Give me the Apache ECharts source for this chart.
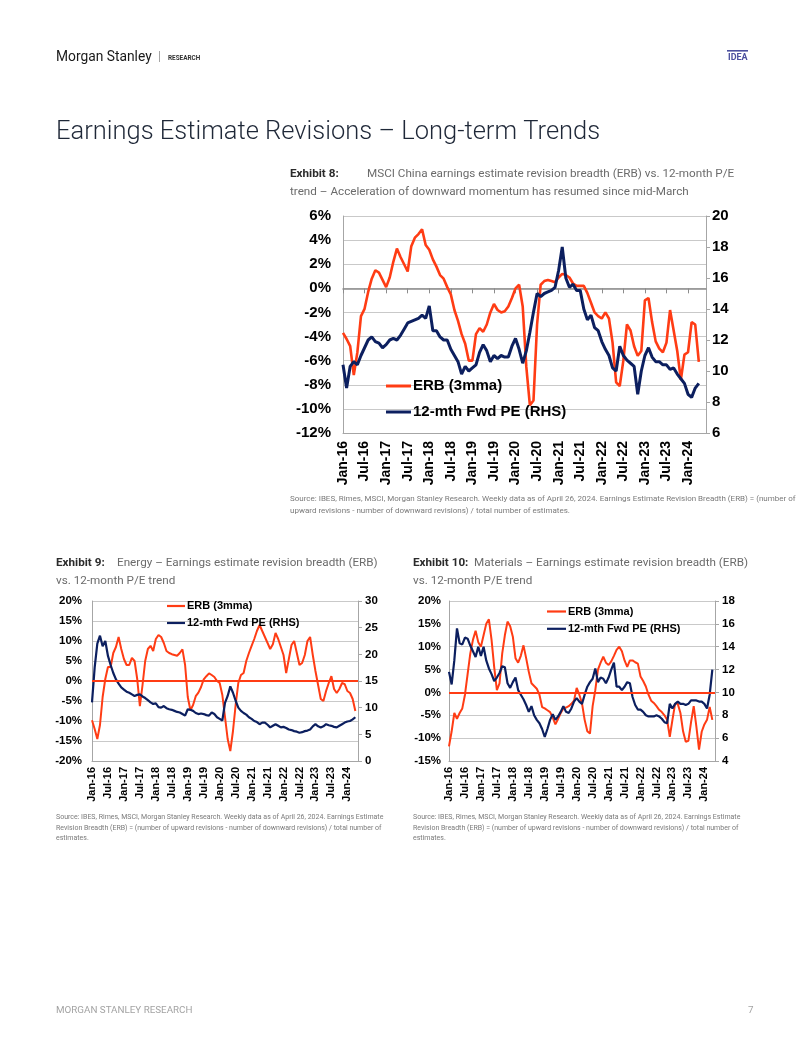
<!DOCTYPE html>
<html><head><meta charset="utf-8">
<script src="https://cdn.jsdelivr.net/npm/echarts@6/dist/echarts.min.js"></script>
<style>html,body{margin:0;padding:0;background:#fff}#c{width:802px;height:1037px}</style>
</head><body><div id="c"></div>
<script>
// ---------- data (monthly, Jan-16 .. Apr-24) ----------
const tickLabels = ['Jan-16','Jul-16','Jan-17','Jul-17','Jan-18','Jul-18','Jan-19','Jul-19','Jan-20','Jul-20','Jan-21','Jul-21','Jan-22','Jul-22','Jan-23','Jul-23','Jan-24'];
const seriesNames = ['ERB (3mma)','12-mth Fwd PE (RHS)'];

const erbChina = [
 -3.7,-4.2,-4.8,-7.2,-5.3,-2.3,-1.7,-0.3,0.8,1.5,
 1.3,0.7,0.1,0.9,2.2,3.3,2.6,2.0,1.4,3.5,
 4.2,4.5,4.9,3.6,3.2,2.4,1.8,1.1,0.8,0.1,
 -0.5,-1.8,-2.7,-3.8,-4.6,-6.0,-6.0,-3.8,-3.3,-3.6,
 -3.0,-2.0,-1.3,-1.8,-2.0,-1.9,-1.5,-0.8,0.0,0.3,
 -1.5,-6.5,-9.7,-9.3,-3.0,0.3,0.6,0.7,0.6,0.5,
 0.9,1.2,1.1,0.9,0.4,0.2,0.2,0.2,-0.4,-1.2,
 -2.0,-2.3,-2.5,-2.0,-2.5,-4.5,-7.8,-8.1,-6.0,-3.0,
 -3.5,-4.8,-5.6,-5.2,-1.0,-0.8,-2.8,-4.4,-5.0,-5.3,
 -4.5,-1.8,-3.5,-5.2,-7.6,-5.5,-5.3,-2.8,-3.0,-6.1];
const peChina = [
 10.4,8.9,10.3,10.6,10.4,11.0,11.5,12.0,12.2,11.9,
 11.8,11.5,11.7,12.0,12.1,12.0,12.3,12.7,13.1,13.2,
 13.3,13.4,13.6,13.4,14.2,12.6,12.6,12.2,12.0,12.0,
 11.4,11.0,10.6,9.8,10.3,10.0,10.2,10.4,11.2,11.7,
 11.3,10.6,11.0,10.8,11.0,10.9,10.9,11.6,12.1,11.4,
 10.5,11.3,12.5,13.8,15.0,14.8,15.0,15.1,15.2,15.4,
 16.5,18.0,16.0,15.4,15.6,15.2,15.2,14.0,13.3,13.6,
 12.8,12.6,11.9,11.4,11.0,10.2,10.0,11.6,11.0,10.7,
 10.5,10.3,8.5,10.0,11.0,11.5,10.9,10.6,10.6,10.4,
 10.4,10.1,10.2,9.8,9.5,9.2,8.5,8.3,8.9,9.2];

const erbEnergy = [
 -9.8,-12.0,-14.5,-11.0,-4.0,0.5,3.5,3.5,7.0,8.5,
 11.0,8.0,5.5,4.0,4.0,5.8,5.0,0.5,-6.3,-1.0,
 5.0,8.0,8.8,7.5,10.5,11.5,11.0,9.5,7.5,7.0,
 6.7,6.5,6.3,7.0,7.9,4.0,-4.0,-7.3,-6.0,-3.8,
 -2.9,-1.5,0.4,1.2,1.9,1.5,1.0,0.0,-0.5,-3.5,
 -9.0,-14.5,-17.5,-12.5,-6.0,-0.5,1.5,2.0,5.0,7.0,
 8.8,10.5,12.5,14.0,12.5,11.0,9.5,8.0,9.2,12.0,
 10.5,8.5,6.5,2.0,5.5,9.0,10.0,7.0,4.0,4.5,
 6.5,10.0,11.0,6.5,2.5,-1.0,-4.5,-5.0,-2.5,-0.5,
 1.2,-2.0,-3.0,-2.0,-0.5,-0.8,-2.5,-3.0,-4.5,-7.5];
const peEnergy = [
 11.0,17.5,22.0,23.5,21.5,22.5,19.7,18.0,16.5,15.3,
 14.5,13.8,13.4,13.0,12.8,12.5,12.2,12.4,12.5,12.1,
 11.8,11.4,11.0,10.7,10.8,10.1,10.0,10.3,9.9,9.7,
 9.6,9.4,9.2,9.1,8.8,8.5,9.7,9.6,9.4,9.0,
 8.8,8.9,8.8,8.6,8.5,9.1,8.8,8.2,7.9,7.6,
 10.9,12.2,14.0,12.8,11.3,10.0,9.4,9.0,8.7,8.2,
 7.9,7.5,7.3,6.9,7.2,7.2,6.8,6.3,6.6,6.9,
 6.6,6.3,6.4,6.2,5.9,5.8,5.6,5.5,5.3,5.4,
 5.6,5.7,5.9,6.5,6.9,6.5,6.3,6.5,6.9,6.7,
 6.6,6.4,6.3,6.6,6.9,7.2,7.4,7.5,7.8,8.2];

const erbMaterials = [
 -11.8,-8.5,-4.5,-5.8,-4.5,-3.5,-0.5,4.0,8.5,11.5,
 13.5,11.0,10.0,12.5,15.0,16.0,11.5,5.5,0.5,2.0,
 8.5,12.5,15.5,14.5,12.2,7.5,6.5,8.0,10.3,7.5,
 4.5,2.0,1.4,0.8,-0.5,-3.2,-3.5,-3.9,-4.3,-5.5,
 -7.0,-5.8,-4.5,-3.5,-3.3,-3.0,-2.5,-1.8,1.0,-0.5,
 -2.4,-6.0,-8.5,-9.0,-3.0,0.5,5.0,6.5,7.8,6.5,
 6.0,6.8,8.0,9.3,10.0,9.0,7.0,5.6,7.0,7.0,
 6.6,6.3,3.5,2.5,1.3,-0.5,-1.8,-2.3,-3.0,-3.8,
 -4.3,-5.0,-6.0,-9.7,-6.0,-2.5,-2.5,-4.5,-8.5,-10.8,
 -10.6,-6.5,-3.0,-7.5,-12.5,-8.6,-7.0,-6.0,-3.2,-6.0];
const peMaterials = [
 11.8,10.7,12.8,15.6,14.3,14.2,14.8,14.7,14.1,13.6,
 13.1,14.0,13.2,14.0,12.8,12.1,11.6,11.0,11.3,11.7,
 12.3,12.2,10.8,10.4,10.9,11.3,10.2,9.8,9.4,8.9,
 8.3,8.8,8.0,7.6,7.3,6.8,6.1,6.8,7.6,8.1,
 7.6,7.9,8.3,8.8,8.3,8.2,8.6,9.2,9.5,9.2,
 9.0,9.8,10.5,10.9,11.2,12.1,10.9,11.3,11.2,10.8,
 11.3,12.0,12.6,10.5,10.5,10.2,10.5,10.9,10.8,9.6,
 8.9,8.5,8.5,8.3,8.0,7.9,7.9,7.9,8.0,7.9,
 7.7,7.4,7.3,9.0,8.6,9.0,9.2,9.0,9.0,8.9,
 9.0,9.3,9.3,9.3,9.2,9.2,9.0,8.6,9.8,12.0];

// ---------- helpers ----------
const MON = ['Jan','Feb','Mar','Apr','May','Jun','Jul','Aug','Sep','Oct','Nov','Dec'];
function monthCats(n){ const a=[]; for(let i=0;i<n;i++){ a.push(MON[i%12]+'-'+(16+Math.floor(i/12))); } return a; }
const cats8 = monthCats(102);
const cats9 = monthCats(101);
const isTick = (i, v) => tickLabels.indexOf(v) >= 0;

const ORANGE = '#ff3c14';
const NAVY = '#0c1f5f';
const GRID = '#c9c9c9';
const AX = '#a6a6a6';
const CF = '"Liberation Sans", Arial, sans-serif';
const TF = 'Roboto, "Noto Sans", sans-serif';

function labelStyle(size){ return {fontFamily: CF, fontWeight: 'bold', fontSize: size, color: '#000'}; }

function txt(left, top, text, font, fill, extra){
  return {type:'text', left, top, silent:true, style:Object.assign({text, font, fill}, extra||{})};
}

const src3 = 'Source: IBES, Rimes, MSCI, Morgan Stanley Research. Weekly data as of April 26, 2024. Earnings Estimate\nRevision Breadth (ERB) = (number of upward revisions - number of downward revisions) / total number of\nestimates.';

const CAP = '11.7px ' + TF;
const CAPB = 'bold 11.7px ' + TF;
const graphics = [
  txt(56, 51, 'Morgan Stanley', '13.8px ' + TF, '#1a1a1a'),
  txt(158, 51, '|', '12px ' + TF, '#9a9a9a'),
  txt(168, 55, 'RESEARCH', 'bold 6.4px ' + TF, '#333'),
  {type:'rect', silent:true, shape:{x:727, y:50, width:21, height:1.6}, style:{fill:'#4b4f9e'}},
  txt(728, 53, 'IDEA', 'bold 9px ' + TF, '#4b4f9e'),
  txt(56, 120, 'Earnings Estimate Revisions \u2013 Long-term Trends', '300 25.5px ' + TF, '#1f2838'),
  txt(290, 168, 'Exhibit 8:', CAPB, '#2b2b2b'),
  txt(367, 168, 'MSCI China earnings estimate revision breadth (ERB) vs. 12-month P/E', CAP, '#6b6b6b'),
  txt(290, 186, 'trend \u2013 Acceleration of downward momentum has resumed since mid-March', CAP, '#6b6b6b'),
  txt(290, 493, 'Source: IBES, Rimes, MSCI, Morgan Stanley Research. Weekly data as of April 26, 2024. Earnings Estimate Revision Breadth (ERB) = (number of\nupward revisions - number of downward revisions) / total number of estimates.', '8px ' + TF, '#7a7a7a', {lineHeight: 12}),
  txt(56, 557, 'Exhibit 9:', CAPB, '#2b2b2b'),
  txt(117, 557, 'Energy \u2013 Earnings estimate revision breadth (ERB)', CAP, '#6b6b6b'),
  txt(56, 575, 'vs. 12-month P/E trend', CAP, '#6b6b6b'),
  txt(413, 557, 'Exhibit 10:', CAPB, '#2b2b2b'),
  txt(474, 557, 'Materials \u2013 Earnings estimate revision breadth (ERB)', CAP, '#6b6b6b'),
  txt(413, 575, 'vs. 12-month P/E trend', CAP, '#6b6b6b'),
  txt(56, 812, src3, '7px ' + TF, '#7a7a7a', {lineHeight: 10.5}),
  txt(413, 812, src3, '7px ' + TF, '#7a7a7a', {lineHeight: 10.5}),
  txt(56, 1006, 'MORGAN STANLEY RESEARCH', '9.8px ' + TF, '#a3a3a3'),
  txt(748, 1006, '7', '9.8px ' + TF, '#a3a3a3')
];

function catAxis(gridIndex, cats, opts){
  return Object.assign({
    type:'category', gridIndex, data:cats, boundaryGap:false,
    axisLine:{show:true, onZero:false, lineStyle:{color:AX, width:1}},
    axisTick:{show:false},
    axisLabel:{show:true, rotate:90, interval:isTick, margin:6, ...labelStyle(11)},
    splitLine:{show:false}
  }, opts||{});
}
function valAxis(gridIndex, min, max, interval, pos, size, margin, pct, split){
  return {
    type:'value', gridIndex, min, max, interval, position:pos,
    axisLine:{show:true, lineStyle:{color:AX}},
    axisTick:{show: pos==='right', length:4, lineStyle:{color:AX}},
    axisLabel:{margin, formatter: pct ? '{value}%' : '{value}', ...labelStyle(size)},
    splitLine:{show:split, lineStyle:{color:GRID, width:1}}
  };
}

const legendCommon = (left, top, iw, ih, gap, size) => ({
  data: seriesNames.map(n => ({name:n, icon:'rect'})), orient:'vertical', left, top,
  itemWidth:iw, itemHeight:ih, itemGap:gap,
  selectedMode:false, padding:0, textStyle:{...labelStyle(size), lineHeight:size, padding:[0,0,0,-3]}
});

function line(name, xi, yi, data, color, width, extra){
  return Object.assign({name, type:'line', xAxisIndex:xi, yAxisIndex:yi, data, symbol:'none',
    lineStyle:{color, width}, itemStyle:{color}, z: name===seriesNames[1]?3:2, silent:true}, extra||{});
}
const zeroMark = {silent:true, symbol:'none', label:{show:false}, lineStyle:{color:ORANGE, width:2, type:'solid'}, data:[{yAxis:0}]};

const option = {
  animation:false,
  backgroundColor:'#fff',
  graphic: graphics,
  grid:[
    {left:343, top:216, width:363, height:217},
    {left:92, top:601, width:266, height:160},
    {left:449, top:601, width:266, height:160}
  ],
  xAxis:[
    {type:'category', gridIndex:0, data:cats8, boundaryGap:false, position:'bottom',
     axisLine:{show:true, onZero:true, onZeroAxisIndex:0, lineStyle:{color:'#8c8c8c', width:1.5}},
     axisTick:{show:true, interval:isTick, length:5, lineStyle:{color:'#8c8c8c'}},
     axisLabel:{show:false}, splitLine:{show:false}},
    catAxis(0, cats8, {position:'bottom', axisLabel:{show:true, rotate:90, interval:isTick, margin:8, ...labelStyle(14)}}),
    catAxis(1, cats9),
    catAxis(2, cats9)
  ],
  yAxis:[
    valAxis(0, -12, 6, 2, 'left', 15, 12, true, true),
    valAxis(0, 6, 20, 2, 'right', 15, 6, false, false),
    valAxis(1, -20, 20, 5, 'left', 11.5, 10, true, true),
    valAxis(1, 0, 30, 5, 'right', 11.5, 7, false, false),
    valAxis(2, -15, 20, 5, 'left', 11.5, 8, true, true),
    valAxis(2, 4, 18, 2, 'right', 11.5, 7, false, false)
  ],
  legend:[
    legendCommon(386, 378.5, 25, 3, 11, 15),
    legendCommon(167, 600.5, 18, 2.2, 6, 11),
    legendCommon(547, 606, 19, 2.2, 6.3, 11)
  ],
  series:[
    line(seriesNames[0], 0, 0, erbChina, ORANGE, 2.6),
    line(seriesNames[1], 0, 1, peChina, NAVY, 3),
    line(seriesNames[0], 2, 2, erbEnergy, ORANGE, 2, {markLine: zeroMark}),
    line(seriesNames[1], 2, 3, peEnergy, NAVY, 2.2),
    line(seriesNames[0], 3, 4, erbMaterials, ORANGE, 2, {markLine: zeroMark}),
    line(seriesNames[1], 3, 5, peMaterials, NAVY, 2.2)
  ]
};

const chart = echarts.init(document.getElementById('c'), null, {renderer:'canvas'});
chart.setOption(option);
</script>
</body></html>
